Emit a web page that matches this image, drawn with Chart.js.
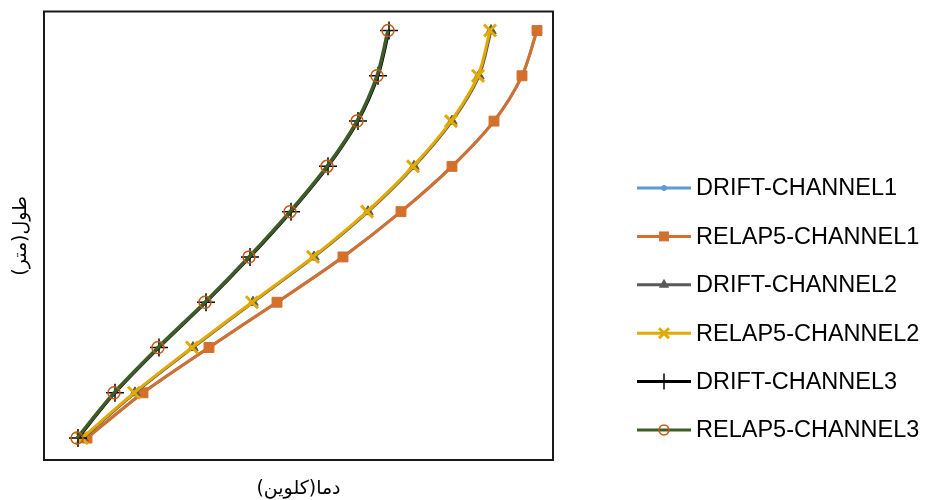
<!DOCTYPE html>
<html><head><meta charset="utf-8">
<script src="https://cdn.jsdelivr.net/npm/chart.js@4"></script>
<style>html,body{margin:0;padding:0;background:#fff}canvas{display:block;direction:rtl}</style>
</head><body><canvas id="c" width="927" height="500"></canvas>
<script>
// ---- data (temperature values in chart units, heights as level index) ----
const heights   = [0, 1, 2, 3, 4, 5, 6, 7, 8, 9];
const driftCh1  = [43, 99, 165, 233, 299, 357, 408, 450, 478, 493];
const relapCh1  = [43, 99, 165, 233, 299, 357, 408, 450, 478, 493];
const driftCh2  = [39, 91, 149, 209, 270, 324, 370, 408, 435, 447];
const relapCh2  = [38, 90, 148, 208, 269, 323, 369, 407, 434, 446];
const driftCh3  = [34, 71, 115, 162, 206, 247, 284, 314, 334, 345];
const relapCh3  = [33, 70, 114, 161, 205, 246, 283, 313, 333, 344];
const seriesNames = ['DRIFT-CHANNEL1','RELAP5-CHANNEL1','DRIFT-CHANNEL2','RELAP5-CHANNEL2','DRIFT-CHANNEL3','RELAP5-CHANNEL3'];
const xTitle = 'دما(کلوین)';
const yTitle = 'طول(متر)';

const seriesValues = [driftCh1, relapCh1, driftCh2, relapCh2, driftCh3, relapCh3];
const styles = [
  {line:'#5B9BD5', ps:'circle',   r:2.5, fill:'#5B9BD5', stroke:'#5B9BD5', pw:1,   lw:3},
  {line:'#D4702C', ps:'rect',     r:7,   fill:'#D4702C', stroke:'#D4702C', pw:1,   lw:3},
  {line:'#595959', ps:'triangle', r:6,   fill:'#595959', stroke:'#595959', pw:1,   lw:3},
  {line:'#E2AA00', ps:'crossRot', r:8.5, fill:'#E2AA00', stroke:'#E2AA00', pw:3,   lw:3},
  {line:'#000000', ps:'cross',    r:9,   fill:'#000000', stroke:'#000000', pw:1.5, lw:3},
  {line:'#3D5C27', ps:'circle',   r:6,   fill:'rgba(0,0,0,0)', stroke:'#C55A11', pw:1.5, lw:3.5}
];

const datasets = seriesNames.map((name, i) => ({
  label: name,
  data: seriesValues[i].map((v, k) => ({x: v, y: heights[k]})),
  borderColor: styles[i].line,
  borderWidth: styles[i].lw,
  pointStyle: styles[i].ps,
  pointRadius: styles[i].r,
  pointBackgroundColor: styles[i].fill,
  pointBorderColor: styles[i].stroke,
  pointBorderWidth: styles[i].pw,
  tension: 0.3,
  showLine: true,
  fill: false,
  order: seriesNames.length - i
}));

function drawMarker(ctx, s, x, y, r) {
  ctx.save();
  ctx.fillStyle = s.fill; ctx.strokeStyle = s.stroke; ctx.lineWidth = s.pw;
  ctx.beginPath();
  if (s.ps === 'circle') { ctx.arc(x, y, r, 0, Math.PI*2); ctx.fill(); ctx.stroke(); }
  else if (s.ps === 'rect') { const h = r*Math.SQRT1_2; ctx.rect(x-h, y-h, 2*h, 2*h); ctx.fill(); }
  else if (s.ps === 'triangle') { ctx.moveTo(x, y-r); ctx.lineTo(x+r*0.866, y+r*0.5); ctx.lineTo(x-r*0.866, y+r*0.5); ctx.closePath(); ctx.fill(); }
  else if (s.ps === 'crossRot') { const d = r*Math.SQRT1_2; ctx.moveTo(x-d,y-d); ctx.lineTo(x+d,y+d); ctx.moveTo(x+d,y-d); ctx.lineTo(x-d,y+d); ctx.stroke(); }
  else if (s.ps === 'cross') { ctx.moveTo(x, y-r); ctx.lineTo(x, y+r); ctx.stroke(); }
  ctx.restore();
}

const framePlugin = {
  id: 'frame',
  afterDraw(chart) {
    const {ctx, chartArea: a} = chart;
    ctx.save();
    ctx.strokeStyle = '#1a1a1a'; ctx.lineWidth = 2;
    ctx.strokeRect(a.left, a.top, a.right - a.left, a.bottom - a.top);
    // legend
    ctx.direction = 'ltr';
    ctx.font = '23.5px "Liberation Sans", Arial, sans-serif';
    ctx.textAlign = 'left'; ctx.textBaseline = 'middle'; ctx.fillStyle = '#000';
    seriesNames.forEach((name, i) => {
      const y = 188 + i * 48.4;
      ctx.strokeStyle = styles[i].line; ctx.lineWidth = 3;
      ctx.beginPath(); ctx.moveTo(637, y); ctx.lineTo(691, y); ctx.stroke();
      const lr = [2.5, 7, 6, 7, 8, 5][i];
      drawMarker(ctx, styles[i], 664, y, lr);
      ctx.fillStyle = '#000';
      ctx.fillText(name, 696, y + 1);
    });
    ctx.restore();
  }
};

new Chart(document.getElementById('c'), {
  type: 'scatter',
  data: { datasets },
  options: {
    responsive: false, animation: false, devicePixelRatio: 1,
    layout: { padding: { top: 10, right: 374, left: 0, bottom: 0 } },
    plugins: { legend: { display: false }, tooltip: { enabled: false } },
    scales: {
      x: {
        type: 'linear', min: 0, max: 509,
        ticks: { display: false }, grid: { display: false }, border: { display: false },
        title: { display: true, text: xTitle, color: '#000', font: { family: '"DejaVu Sans", sans-serif', size: 19 }, padding: { top: 0, bottom: 0 } },
        afterFit: s => { s.height = 40; }
      },
      y: {
        type: 'linear', min: -0.484, max: 9.42,
        ticks: { display: false }, grid: { display: false }, border: { display: false },
        title: { display: true, text: yTitle, color: '#000', font: { family: '"DejaVu Sans", sans-serif', size: 19 }, padding: { top: 10, bottom: 0 } },
        afterFit: s => { s.width = 44; }
      }
    }
  },
  plugins: [framePlugin]
});
</script></body></html>
